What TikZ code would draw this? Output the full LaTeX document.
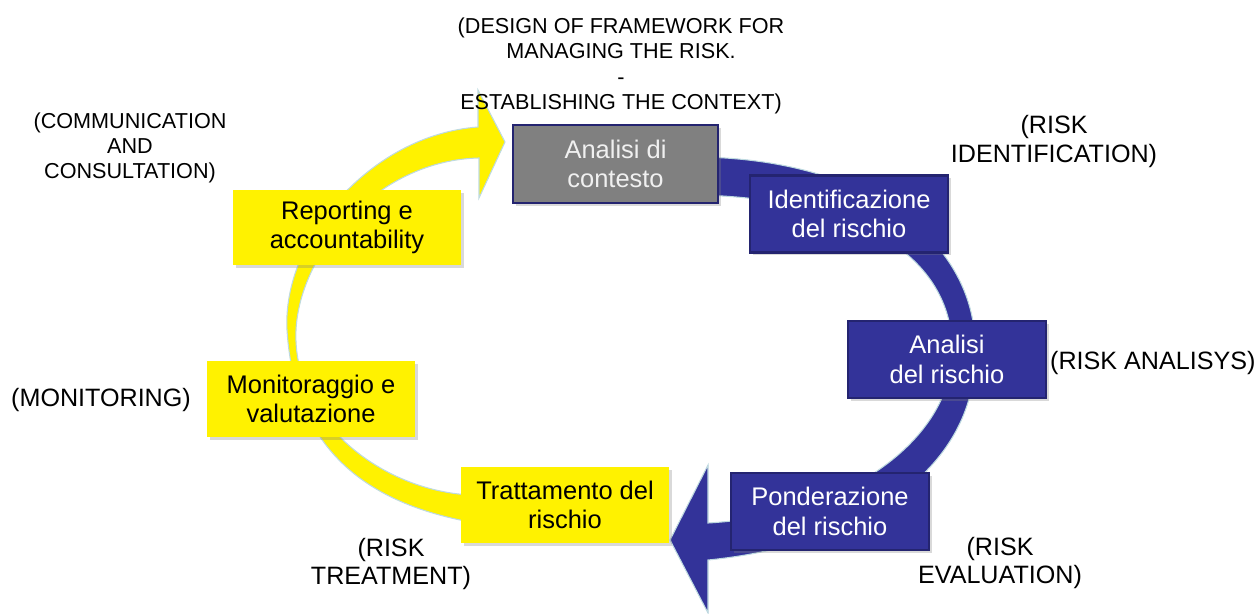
\documentclass[tikz,border=0pt]{standalone}
\usepackage{fontspec}
\setmainfont{Liberation Sans}
\usetikzlibrary{shadows}
\definecolor{riskblue}{RGB}{51,51,153}
\definecolor{riskline}{RGB}{36,36,112}
\definecolor{riskgray}{RGB}{128,128,128}
\definecolor{halo}{RGB}{190,218,224}

\begin{document}
\begin{tikzpicture}
  [x=0.02cm, y=-0.02cm,
   box/.style={rectangle, inner sep=0pt, align=center, font=\fontsize{14.5}{16.8}\selectfont,
     drop shadow={opacity=0.3, shadow xshift=1.5pt, shadow yshift=-1.5pt}},
   bluebox/.style={box, fill=riskblue, draw=riskline, line width=1.2pt, text=white,
     minimum width=3.96cm, minimum height=1.54cm},
   graybox/.style={box, fill=riskgray, draw=riskline, line width=1.2pt, text=white!88!gray,
     minimum width=4.1cm, minimum height=1.56cm},
   yellowbox/.style={box, fill=yellow, text=black, minimum width=4.16cm, minimum height=1.52cm},
   note/.style={align=center, font=\fontsize{14.3}{16.4}\selectfont},
   smallnote/.style={align=center, font=\fontsize{12.3}{14.4}\selectfont}]
  \useasboundingbox (0,0) rectangle (1260,614);
  \fill[riskblue, draw=halo, line width=0.6pt]
    (700,157) .. controls (880,160) and (980,250) .. (975,355)
    .. controls (975,470) and (860,545) .. (708,560)
    -- (708,613) -- (670,540) -- (708,465) -- (708,523)
    .. controls (850,515) and (945,440) .. (952,360)
    .. controls (958,270) and (880,200) .. (700,195) -- cycle;
  \fill[yellow, draw=halo, line width=0.6pt]
    (470,522) .. controls (380,505) and (295,460) .. (287,330)
    .. controls (282,240) and (370,135) .. (478,127)
    -- (478,90) -- (505,142) -- (479,198) -- (479,158)
    .. controls (380,160) and (300,250) .. (296,330)
    .. controls (292,420) and (380,490) .. (470,495) -- cycle;
  \node[graybox] (context) at (615.5,164) {Analisi di\\contesto};
  \node[bluebox] (ident) at (849,214) {Identificazione\\del rischio};
  \node[bluebox] (analysis) at (947,359.5) {Analisi\\del rischio};
  \node[bluebox] (weighting) at (830,511.5) {Ponderazione\\del rischio};
  \node[yellowbox] (treatment) at (565,505) {Trattamento del\\rischio};
  \node[yellowbox] (monitoring) at (311,399) {Monitoraggio e\\valutazione};
  \node[yellowbox, minimum width=4.56cm, minimum height=1.5cm] (reporting) at (347,227.5) {Reporting e\\accountability};
  \node[smallnote] (framework) at (621,66) {(DESIGN OF FRAMEWORK FOR\\MANAGING THE RISK.\\-\\ESTABLISHING THE CONTEXT)};
  \node[smallnote] (communication) at (130,148) {(COMMUNICATION\\AND\\CONSULTATION)};
  \node[note] (identlbl) at (1054,141.5) {(RISK\\IDENTIFICATION)};
  \node[note, anchor=west] (analysislbl) at (1044,363) {(RISK ANALISYS)};
  \node[note] (weightinglbl) at (1000,563) {(RISK\\EVALUATION)};
  \node[note] (treatmentlbl) at (391,564) {(RISK\\TREATMENT)};
  \node[note] (monitoringlbl) at (101,400) {(MONITORING)};
\end{tikzpicture}
\end{document}
